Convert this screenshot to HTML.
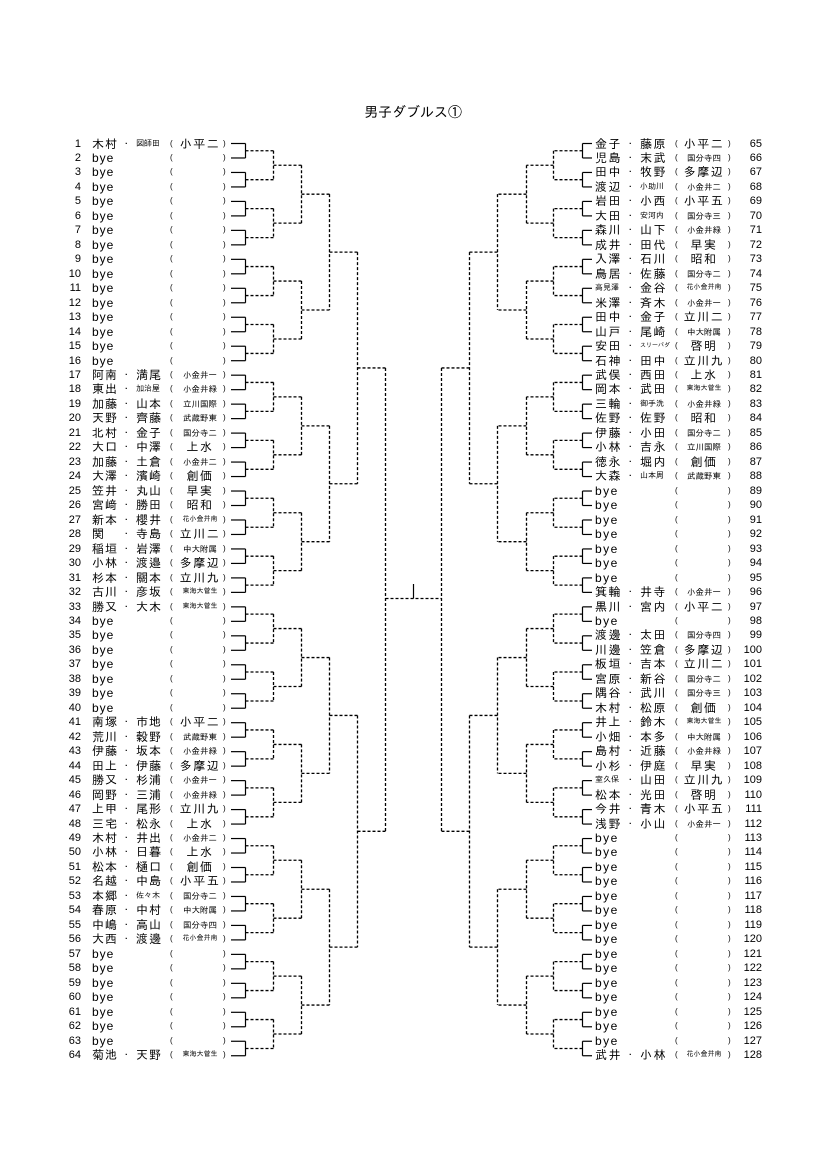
<!DOCTYPE html>
<html><head><meta charset="utf-8"><style>
body{margin:0;background:#fff;}
#pg{position:relative;width:826px;height:1169px;overflow:hidden;background:#fff;font-family:"Liberation Sans","IPAGothic","Noto Sans CJK JP",sans-serif;color:#000;}
.t{position:absolute;left:0;width:826px;top:104px;text-align:center;font-size:14px;}
.col{position:absolute;top:136.5px;left:0;width:826px;}
.r{position:relative;height:14.48px;line-height:14px;font-size:12px;white-space:nowrap;}
.r span{position:absolute;top:0;}
.L .n{left:50px;width:31px;text-align:right;font-size:11px}
.L .a{left:92px;letter-spacing:1px}
.L .d{left:124px;font-size:9px}
.L .b{left:136px;letter-spacing:1px}
.L .p{left:170px;font-size:8px}
.L .f{left:176px;width:48px;text-align:center;letter-spacing:1.5px}
.L .q{left:223px;font-size:8px}
.R .a{left:595px;letter-spacing:1.5px}
.R .d{left:628px;font-size:9px}
.R .b{left:640px;letter-spacing:1.5px}
.R .p{left:675px;font-size:8px}
.R .f{left:680px;width:48px;text-align:center;letter-spacing:1.5px}
.R .q{left:728px;font-size:8px}
.R .n{left:735px;width:27px;text-align:right;font-size:11px}
.r .s{font-size:8px;letter-spacing:0}
.r .f.s{font-size:8.5px;letter-spacing:0}
svg{position:absolute;left:0;top:0}
</style></head><body><div id="pg">
<div class="t">男子ダブルス①</div>
<svg id="sv" width="826" height="1169"></svg>
<div class="col L">
<div class="r"><span class="n">1</span><span class="a">木村</span><span class="d">･</span><span class="b s">図師田</span><span class="p">(</span><span class="f">小平二</span><span class="q">)</span></div>
<div class="r"><span class="n">2</span><span class="a">bye</span><span class="p">(</span><span class="q">)</span></div>
<div class="r"><span class="n">3</span><span class="a">bye</span><span class="p">(</span><span class="q">)</span></div>
<div class="r"><span class="n">4</span><span class="a">bye</span><span class="p">(</span><span class="q">)</span></div>
<div class="r"><span class="n">5</span><span class="a">bye</span><span class="p">(</span><span class="q">)</span></div>
<div class="r"><span class="n">6</span><span class="a">bye</span><span class="p">(</span><span class="q">)</span></div>
<div class="r"><span class="n">7</span><span class="a">bye</span><span class="p">(</span><span class="q">)</span></div>
<div class="r"><span class="n">8</span><span class="a">bye</span><span class="p">(</span><span class="q">)</span></div>
<div class="r"><span class="n">9</span><span class="a">bye</span><span class="p">(</span><span class="q">)</span></div>
<div class="r"><span class="n">10</span><span class="a">bye</span><span class="p">(</span><span class="q">)</span></div>
<div class="r"><span class="n">11</span><span class="a">bye</span><span class="p">(</span><span class="q">)</span></div>
<div class="r"><span class="n">12</span><span class="a">bye</span><span class="p">(</span><span class="q">)</span></div>
<div class="r"><span class="n">13</span><span class="a">bye</span><span class="p">(</span><span class="q">)</span></div>
<div class="r"><span class="n">14</span><span class="a">bye</span><span class="p">(</span><span class="q">)</span></div>
<div class="r"><span class="n">15</span><span class="a">bye</span><span class="p">(</span><span class="q">)</span></div>
<div class="r"><span class="n">16</span><span class="a">bye</span><span class="p">(</span><span class="q">)</span></div>
<div class="r"><span class="n">17</span><span class="a">阿南</span><span class="d">･</span><span class="b">満尾</span><span class="p">(</span><span class="f s">小金井一</span><span class="q">)</span></div>
<div class="r"><span class="n">18</span><span class="a">東出</span><span class="d">･</span><span class="b s">加治屋</span><span class="p">(</span><span class="f s">小金井緑</span><span class="q">)</span></div>
<div class="r"><span class="n">19</span><span class="a">加藤</span><span class="d">･</span><span class="b">山本</span><span class="p">(</span><span class="f s">立川国際</span><span class="q">)</span></div>
<div class="r"><span class="n">20</span><span class="a">天野</span><span class="d">･</span><span class="b">齊藤</span><span class="p">(</span><span class="f s">武蔵野東</span><span class="q">)</span></div>
<div class="r"><span class="n">21</span><span class="a">北村</span><span class="d">･</span><span class="b">金子</span><span class="p">(</span><span class="f s">国分寺二</span><span class="q">)</span></div>
<div class="r"><span class="n">22</span><span class="a">大口</span><span class="d">･</span><span class="b">中澤</span><span class="p">(</span><span class="f">上水</span><span class="q">)</span></div>
<div class="r"><span class="n">23</span><span class="a">加藤</span><span class="d">･</span><span class="b">土倉</span><span class="p">(</span><span class="f s">小金井二</span><span class="q">)</span></div>
<div class="r"><span class="n">24</span><span class="a">大澤</span><span class="d">･</span><span class="b">濱崎</span><span class="p">(</span><span class="f">創価</span><span class="q">)</span></div>
<div class="r"><span class="n">25</span><span class="a">笠井</span><span class="d">･</span><span class="b">丸山</span><span class="p">(</span><span class="f">早実</span><span class="q">)</span></div>
<div class="r"><span class="n">26</span><span class="a">宮﨑</span><span class="d">･</span><span class="b">勝田</span><span class="p">(</span><span class="f">昭和</span><span class="q">)</span></div>
<div class="r"><span class="n">27</span><span class="a">新本</span><span class="d">･</span><span class="b">櫻井</span><span class="p">(</span><span class="f s" style="font-size:7px">花小金井南</span><span class="q">)</span></div>
<div class="r"><span class="n">28</span><span class="a">関</span><span class="d">･</span><span class="b">寺島</span><span class="p">(</span><span class="f">立川二</span><span class="q">)</span></div>
<div class="r"><span class="n">29</span><span class="a">稲垣</span><span class="d">･</span><span class="b">岩澤</span><span class="p">(</span><span class="f s">中大附属</span><span class="q">)</span></div>
<div class="r"><span class="n">30</span><span class="a">小林</span><span class="d">･</span><span class="b">渡邉</span><span class="p">(</span><span class="f">多摩辺</span><span class="q">)</span></div>
<div class="r"><span class="n">31</span><span class="a">杉本</span><span class="d">･</span><span class="b">關本</span><span class="p">(</span><span class="f">立川九</span><span class="q">)</span></div>
<div class="r"><span class="n">32</span><span class="a">古川</span><span class="d">･</span><span class="b">彦坂</span><span class="p">(</span><span class="f s" style="font-size:7px">東海大菅生</span><span class="q">)</span></div>
<div class="r"><span class="n">33</span><span class="a">勝又</span><span class="d">･</span><span class="b">大木</span><span class="p">(</span><span class="f s" style="font-size:7px">東海大菅生</span><span class="q">)</span></div>
<div class="r"><span class="n">34</span><span class="a">bye</span><span class="p">(</span><span class="q">)</span></div>
<div class="r"><span class="n">35</span><span class="a">bye</span><span class="p">(</span><span class="q">)</span></div>
<div class="r"><span class="n">36</span><span class="a">bye</span><span class="p">(</span><span class="q">)</span></div>
<div class="r"><span class="n">37</span><span class="a">bye</span><span class="p">(</span><span class="q">)</span></div>
<div class="r"><span class="n">38</span><span class="a">bye</span><span class="p">(</span><span class="q">)</span></div>
<div class="r"><span class="n">39</span><span class="a">bye</span><span class="p">(</span><span class="q">)</span></div>
<div class="r"><span class="n">40</span><span class="a">bye</span><span class="p">(</span><span class="q">)</span></div>
<div class="r"><span class="n">41</span><span class="a">南塚</span><span class="d">･</span><span class="b">市地</span><span class="p">(</span><span class="f">小平二</span><span class="q">)</span></div>
<div class="r"><span class="n">42</span><span class="a">荒川</span><span class="d">･</span><span class="b">穀野</span><span class="p">(</span><span class="f s">武蔵野東</span><span class="q">)</span></div>
<div class="r"><span class="n">43</span><span class="a">伊藤</span><span class="d">･</span><span class="b">坂本</span><span class="p">(</span><span class="f s">小金井緑</span><span class="q">)</span></div>
<div class="r"><span class="n">44</span><span class="a">田上</span><span class="d">･</span><span class="b">伊藤</span><span class="p">(</span><span class="f">多摩辺</span><span class="q">)</span></div>
<div class="r"><span class="n">45</span><span class="a">勝又</span><span class="d">･</span><span class="b">杉浦</span><span class="p">(</span><span class="f s">小金井一</span><span class="q">)</span></div>
<div class="r"><span class="n">46</span><span class="a">岡野</span><span class="d">･</span><span class="b">三浦</span><span class="p">(</span><span class="f s">小金井緑</span><span class="q">)</span></div>
<div class="r"><span class="n">47</span><span class="a">上甲</span><span class="d">･</span><span class="b">尾形</span><span class="p">(</span><span class="f">立川九</span><span class="q">)</span></div>
<div class="r"><span class="n">48</span><span class="a">三宅</span><span class="d">･</span><span class="b">松永</span><span class="p">(</span><span class="f">上水</span><span class="q">)</span></div>
<div class="r"><span class="n">49</span><span class="a">木村</span><span class="d">･</span><span class="b">井出</span><span class="p">(</span><span class="f s">小金井二</span><span class="q">)</span></div>
<div class="r"><span class="n">50</span><span class="a">小林</span><span class="d">･</span><span class="b">日暮</span><span class="p">(</span><span class="f">上水</span><span class="q">)</span></div>
<div class="r"><span class="n">51</span><span class="a">松本</span><span class="d">･</span><span class="b">樋口</span><span class="p">(</span><span class="f">創価</span><span class="q">)</span></div>
<div class="r"><span class="n">52</span><span class="a">名越</span><span class="d">･</span><span class="b">中島</span><span class="p">(</span><span class="f">小平五</span><span class="q">)</span></div>
<div class="r"><span class="n">53</span><span class="a">本郷</span><span class="d">･</span><span class="b s">佐々木</span><span class="p">(</span><span class="f s">国分寺二</span><span class="q">)</span></div>
<div class="r"><span class="n">54</span><span class="a">春原</span><span class="d">･</span><span class="b">中村</span><span class="p">(</span><span class="f s">中大附属</span><span class="q">)</span></div>
<div class="r"><span class="n">55</span><span class="a">中嶋</span><span class="d">･</span><span class="b">高山</span><span class="p">(</span><span class="f s">国分寺四</span><span class="q">)</span></div>
<div class="r"><span class="n">56</span><span class="a">大西</span><span class="d">･</span><span class="b">渡邊</span><span class="p">(</span><span class="f s" style="font-size:7px">花小金井南</span><span class="q">)</span></div>
<div class="r"><span class="n">57</span><span class="a">bye</span><span class="p">(</span><span class="q">)</span></div>
<div class="r"><span class="n">58</span><span class="a">bye</span><span class="p">(</span><span class="q">)</span></div>
<div class="r"><span class="n">59</span><span class="a">bye</span><span class="p">(</span><span class="q">)</span></div>
<div class="r"><span class="n">60</span><span class="a">bye</span><span class="p">(</span><span class="q">)</span></div>
<div class="r"><span class="n">61</span><span class="a">bye</span><span class="p">(</span><span class="q">)</span></div>
<div class="r"><span class="n">62</span><span class="a">bye</span><span class="p">(</span><span class="q">)</span></div>
<div class="r"><span class="n">63</span><span class="a">bye</span><span class="p">(</span><span class="q">)</span></div>
<div class="r"><span class="n">64</span><span class="a">菊池</span><span class="d">･</span><span class="b">天野</span><span class="p">(</span><span class="f s" style="font-size:7px">東海大菅生</span><span class="q">)</span></div>
</div>
<div class="col R">
<div class="r"><span class="a">金子</span><span class="d">･</span><span class="b">藤原</span><span class="p">(</span><span class="f">小平二</span><span class="q">)</span><span class="n">65</span></div>
<div class="r"><span class="a">児島</span><span class="d">･</span><span class="b">末武</span><span class="p">(</span><span class="f s">国分寺四</span><span class="q">)</span><span class="n">66</span></div>
<div class="r"><span class="a">田中</span><span class="d">･</span><span class="b">牧野</span><span class="p">(</span><span class="f">多摩辺</span><span class="q">)</span><span class="n">67</span></div>
<div class="r"><span class="a">渡辺</span><span class="d">･</span><span class="b s">小助川</span><span class="p">(</span><span class="f s">小金井二</span><span class="q">)</span><span class="n">68</span></div>
<div class="r"><span class="a">岩田</span><span class="d">･</span><span class="b">小西</span><span class="p">(</span><span class="f">小平五</span><span class="q">)</span><span class="n">69</span></div>
<div class="r"><span class="a">大田</span><span class="d">･</span><span class="b s">安河内</span><span class="p">(</span><span class="f s">国分寺三</span><span class="q">)</span><span class="n">70</span></div>
<div class="r"><span class="a">森川</span><span class="d">･</span><span class="b">山下</span><span class="p">(</span><span class="f s">小金井緑</span><span class="q">)</span><span class="n">71</span></div>
<div class="r"><span class="a">成井</span><span class="d">･</span><span class="b">田代</span><span class="p">(</span><span class="f">早実</span><span class="q">)</span><span class="n">72</span></div>
<div class="r"><span class="a">入澤</span><span class="d">･</span><span class="b">石川</span><span class="p">(</span><span class="f">昭和</span><span class="q">)</span><span class="n">73</span></div>
<div class="r"><span class="a">鳥居</span><span class="d">･</span><span class="b">佐藤</span><span class="p">(</span><span class="f s">国分寺二</span><span class="q">)</span><span class="n">74</span></div>
<div class="r"><span class="a s">高見澤</span><span class="d">･</span><span class="b">金谷</span><span class="p">(</span><span class="f s" style="font-size:7px">花小金井南</span><span class="q">)</span><span class="n">75</span></div>
<div class="r"><span class="a">米澤</span><span class="d">･</span><span class="b">斉木</span><span class="p">(</span><span class="f s">小金井一</span><span class="q">)</span><span class="n">76</span></div>
<div class="r"><span class="a">田中</span><span class="d">･</span><span class="b">金子</span><span class="p">(</span><span class="f">立川二</span><span class="q">)</span><span class="n">77</span></div>
<div class="r"><span class="a">山戸</span><span class="d">･</span><span class="b">尾崎</span><span class="p">(</span><span class="f s">中大附属</span><span class="q">)</span><span class="n">78</span></div>
<div class="r"><span class="a">安田</span><span class="d">･</span><span class="b s" style="font-size:6px">スリーパダ</span><span class="p">(</span><span class="f">啓明</span><span class="q">)</span><span class="n">79</span></div>
<div class="r"><span class="a">石神</span><span class="d">･</span><span class="b">田中</span><span class="p">(</span><span class="f">立川九</span><span class="q">)</span><span class="n">80</span></div>
<div class="r"><span class="a">武俣</span><span class="d">･</span><span class="b">西田</span><span class="p">(</span><span class="f">上水</span><span class="q">)</span><span class="n">81</span></div>
<div class="r"><span class="a">岡本</span><span class="d">･</span><span class="b">武田</span><span class="p">(</span><span class="f s" style="font-size:7px">東海大菅生</span><span class="q">)</span><span class="n">82</span></div>
<div class="r"><span class="a">三輪</span><span class="d">･</span><span class="b s">御手洗</span><span class="p">(</span><span class="f s">小金井緑</span><span class="q">)</span><span class="n">83</span></div>
<div class="r"><span class="a">佐野</span><span class="d">･</span><span class="b">佐野</span><span class="p">(</span><span class="f">昭和</span><span class="q">)</span><span class="n">84</span></div>
<div class="r"><span class="a">伊藤</span><span class="d">･</span><span class="b">小田</span><span class="p">(</span><span class="f s">国分寺二</span><span class="q">)</span><span class="n">85</span></div>
<div class="r"><span class="a">小林</span><span class="d">･</span><span class="b">吉永</span><span class="p">(</span><span class="f s">立川国際</span><span class="q">)</span><span class="n">86</span></div>
<div class="r"><span class="a">徳永</span><span class="d">･</span><span class="b">堀内</span><span class="p">(</span><span class="f">創価</span><span class="q">)</span><span class="n">87</span></div>
<div class="r"><span class="a">大森</span><span class="d">･</span><span class="b s">山本周</span><span class="p">(</span><span class="f s">武蔵野東</span><span class="q">)</span><span class="n">88</span></div>
<div class="r"><span class="a">bye</span><span class="p">(</span><span class="q">)</span><span class="n">89</span></div>
<div class="r"><span class="a">bye</span><span class="p">(</span><span class="q">)</span><span class="n">90</span></div>
<div class="r"><span class="a">bye</span><span class="p">(</span><span class="q">)</span><span class="n">91</span></div>
<div class="r"><span class="a">bye</span><span class="p">(</span><span class="q">)</span><span class="n">92</span></div>
<div class="r"><span class="a">bye</span><span class="p">(</span><span class="q">)</span><span class="n">93</span></div>
<div class="r"><span class="a">bye</span><span class="p">(</span><span class="q">)</span><span class="n">94</span></div>
<div class="r"><span class="a">bye</span><span class="p">(</span><span class="q">)</span><span class="n">95</span></div>
<div class="r"><span class="a">箕輪</span><span class="d">･</span><span class="b">井寺</span><span class="p">(</span><span class="f s">小金井一</span><span class="q">)</span><span class="n">96</span></div>
<div class="r"><span class="a">黒川</span><span class="d">･</span><span class="b">宮内</span><span class="p">(</span><span class="f">小平二</span><span class="q">)</span><span class="n">97</span></div>
<div class="r"><span class="a">bye</span><span class="p">(</span><span class="q">)</span><span class="n">98</span></div>
<div class="r"><span class="a">渡邊</span><span class="d">･</span><span class="b">太田</span><span class="p">(</span><span class="f s">国分寺四</span><span class="q">)</span><span class="n">99</span></div>
<div class="r"><span class="a">川邊</span><span class="d">･</span><span class="b">笠倉</span><span class="p">(</span><span class="f">多摩辺</span><span class="q">)</span><span class="n">100</span></div>
<div class="r"><span class="a">板垣</span><span class="d">･</span><span class="b">吉本</span><span class="p">(</span><span class="f">立川二</span><span class="q">)</span><span class="n">101</span></div>
<div class="r"><span class="a">宮原</span><span class="d">･</span><span class="b">新谷</span><span class="p">(</span><span class="f s">国分寺二</span><span class="q">)</span><span class="n">102</span></div>
<div class="r"><span class="a">隅谷</span><span class="d">･</span><span class="b">武川</span><span class="p">(</span><span class="f s">国分寺三</span><span class="q">)</span><span class="n">103</span></div>
<div class="r"><span class="a">木村</span><span class="d">･</span><span class="b">松原</span><span class="p">(</span><span class="f">創価</span><span class="q">)</span><span class="n">104</span></div>
<div class="r"><span class="a">井上</span><span class="d">･</span><span class="b">鈴木</span><span class="p">(</span><span class="f s" style="font-size:7px">東海大菅生</span><span class="q">)</span><span class="n">105</span></div>
<div class="r"><span class="a">小畑</span><span class="d">･</span><span class="b">本多</span><span class="p">(</span><span class="f s">中大附属</span><span class="q">)</span><span class="n">106</span></div>
<div class="r"><span class="a">島村</span><span class="d">･</span><span class="b">近藤</span><span class="p">(</span><span class="f s">小金井緑</span><span class="q">)</span><span class="n">107</span></div>
<div class="r"><span class="a">小杉</span><span class="d">･</span><span class="b">伊庭</span><span class="p">(</span><span class="f">早実</span><span class="q">)</span><span class="n">108</span></div>
<div class="r"><span class="a s">室久保</span><span class="d">･</span><span class="b">山田</span><span class="p">(</span><span class="f">立川九</span><span class="q">)</span><span class="n">109</span></div>
<div class="r"><span class="a">松本</span><span class="d">･</span><span class="b">光田</span><span class="p">(</span><span class="f">啓明</span><span class="q">)</span><span class="n">110</span></div>
<div class="r"><span class="a">今井</span><span class="d">･</span><span class="b">青木</span><span class="p">(</span><span class="f">小平五</span><span class="q">)</span><span class="n">111</span></div>
<div class="r"><span class="a">浅野</span><span class="d">･</span><span class="b">小山</span><span class="p">(</span><span class="f s">小金井一</span><span class="q">)</span><span class="n">112</span></div>
<div class="r"><span class="a">bye</span><span class="p">(</span><span class="q">)</span><span class="n">113</span></div>
<div class="r"><span class="a">bye</span><span class="p">(</span><span class="q">)</span><span class="n">114</span></div>
<div class="r"><span class="a">bye</span><span class="p">(</span><span class="q">)</span><span class="n">115</span></div>
<div class="r"><span class="a">bye</span><span class="p">(</span><span class="q">)</span><span class="n">116</span></div>
<div class="r"><span class="a">bye</span><span class="p">(</span><span class="q">)</span><span class="n">117</span></div>
<div class="r"><span class="a">bye</span><span class="p">(</span><span class="q">)</span><span class="n">118</span></div>
<div class="r"><span class="a">bye</span><span class="p">(</span><span class="q">)</span><span class="n">119</span></div>
<div class="r"><span class="a">bye</span><span class="p">(</span><span class="q">)</span><span class="n">120</span></div>
<div class="r"><span class="a">bye</span><span class="p">(</span><span class="q">)</span><span class="n">121</span></div>
<div class="r"><span class="a">bye</span><span class="p">(</span><span class="q">)</span><span class="n">122</span></div>
<div class="r"><span class="a">bye</span><span class="p">(</span><span class="q">)</span><span class="n">123</span></div>
<div class="r"><span class="a">bye</span><span class="p">(</span><span class="q">)</span><span class="n">124</span></div>
<div class="r"><span class="a">bye</span><span class="p">(</span><span class="q">)</span><span class="n">125</span></div>
<div class="r"><span class="a">bye</span><span class="p">(</span><span class="q">)</span><span class="n">126</span></div>
<div class="r"><span class="a">bye</span><span class="p">(</span><span class="q">)</span><span class="n">127</span></div>
<div class="r"><span class="a">武井</span><span class="d">･</span><span class="b">小林</span><span class="p">(</span><span class="f s" style="font-size:7px">花小金井南</span><span class="q">)</span><span class="n">128</span></div>
</div>
</div>
<script>
(function(){
var sv=document.getElementById('sv'),h='';
function Y(i){return 143.5+i*14.48;}
function ln(x1,y1,x2,y2,d){h+='<line x1="'+x1+'" y1="'+y1+'" x2="'+x2+'" y2="'+y2+'" stroke="#000" stroke-width="'+(d?1.3:1.2)+'"'+(d?' stroke-dasharray="3,2"':'')+'/>';}
function side(xs,tick0){
 var mids=[];
 for(var k=0;k<32;k++){
  var a=Y(2*k),b=Y(2*k+1);
  ln(tick0,a,xs[0],a,false);ln(tick0,b,xs[0],b,false);
  ln(xs[0],a,xs[0],b,false);
  mids.push((a+b)/2);
 }
 for(var l=1;l<xs.length;l++){
  var nm=[];
  for(var k=0;k<mids.length;k+=2){
   ln(xs[l-1],mids[k],xs[l],mids[k],true);ln(xs[l-1],mids[k+1],xs[l],mids[k+1],true);
   ln(xs[l],mids[k],xs[l],mids[k+1],true);
   nm.push((mids[k]+mids[k+1])/2);
  }
  mids=nm;
 }
 return mids[0];
}
side([245.5,273.5,301.5,329.5,357.5,385.5],231);
side([582.5,553.5,526.5,497.5,469.5,441.5],592);
ln(385.5,598.5,441.5,598.5,true);
ln(413.5,584,413.5,598.5,false);
sv.innerHTML=h;
})();
</script>
</body></html>
